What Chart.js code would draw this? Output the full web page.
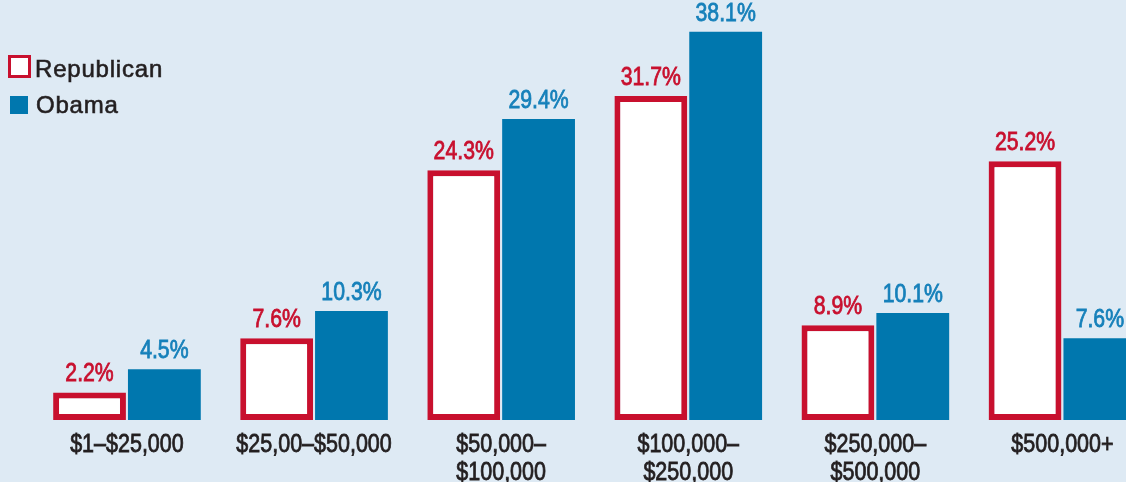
<!DOCTYPE html>
<html>
<head>
<meta charset="utf-8">
<script src="https://cdn.jsdelivr.net/npm/chart.js@4.4.1/dist/chart.umd.min.js"></script>
<style>
  html, body { margin: 0; padding: 0; overflow: hidden; background: #deeaf4; }
  #wrap { width: 1156px; height: 482px; }
  canvas { display: block; }
</style>
</head>
<body>
<div id="wrap"><canvas id="chart" width="1156" height="482"></canvas></div>
<script>
const categories = [
  ['$1–$25,000'],
  ['$25,00–$50,000'],
  ['$50,000–', '$100,000'],
  ['$100,000–', '$250,000'],
  ['$250,000–', '$500,000'],
  ['$500,000+']
];
const republican = [2.2, 7.6, 24.3, 31.7, 8.9, 25.2];
const obama = [4.5, 10.3, 29.4, 38.1, 10.1, 7.6];

const RED = '#c8102e';
const BLUE = '#0077ae';
const BLUE_TEXT = '#1680ba';
const INK = '#231f20';
const Y_MIN = -0.54;
const FONT = '"Liberation Sans", Arial, sans-serif';

// condensed "medium" text: regular face squeezed sideways plus a thin stroke
function squeezedText(ctx, text, x, y, size, color, squeeze) {
  ctx.save();
  ctx.font = size + 'px ' + FONT;
  ctx.fillStyle = color;
  ctx.strokeStyle = color;
  ctx.lineWidth = 0.8;
  ctx.textAlign = 'center';
  ctx.textBaseline = 'alphabetic';
  ctx.translate(x, y);
  ctx.scale(squeeze, 1);
  ctx.fillText(text, 0, 0);
  ctx.strokeText(text, 0, 0);
  ctx.restore();
}

// percentage labels above each bar
const valueLabels = {
  id: 'valueLabels',
  afterDatasetsDraw(chart) {
    chart.data.datasets.forEach((ds, i) => {
      const meta = chart.getDatasetMeta(i);
      meta.data.forEach((bar, j) => {
        squeezedText(chart.ctx, ds.data[j].toFixed(1) + '%', bar.x, bar.y - 11, 25,
          i === 0 ? RED : BLUE_TEXT, 0.85);
      });
    });
  }
};

// category names under the x scale, placed at the scale's tick pixels
const categoryLabels = {
  id: 'categoryLabels',
  afterDraw(chart) {
    const xs = chart.scales.x;
    chart.data.labels.forEach((lines, i) => {
      const x = xs.getPixelForTick(i);
      lines.forEach((line, k) => {
        squeezedText(chart.ctx, line, x, xs.top + 32 + k * 28, 25, INK, 0.86);
      });
    });
  }
};

// legend in the top-left corner
const cornerLegend = {
  id: 'cornerLegend',
  afterDraw(chart) {
    const ctx = chart.ctx;
    const ds = chart.data.datasets;
    ctx.save();
    ctx.font = '24px ' + FONT;
    ctx.letterSpacing = '0.8px';
    ctx.textBaseline = 'alphabetic';
    ctx.lineWidth = 0.6;

    // Republican: outlined square
    ctx.fillStyle = '#ffffff';
    ctx.fillRect(8, 55, 23, 23);
    ctx.strokeStyle = ds[0].borderColor;
    ctx.lineWidth = 3;
    ctx.strokeRect(9.5, 56.5, 20, 20);
    ctx.fillStyle = INK;
    ctx.strokeStyle = INK;
    ctx.lineWidth = 0.6;
    ctx.fillText(ds[0].label, 35, 77);
    ctx.strokeText(ds[0].label, 35, 77);

    // Obama: filled square
    ctx.fillStyle = ds[1].backgroundColor;
    ctx.fillRect(10, 96, 18, 18);
    ctx.fillStyle = INK;
    ctx.fillText(ds[1].label, 36, 113);
    ctx.strokeText(ds[1].label, 36, 113);
    ctx.restore();
  }
};

new Chart(document.getElementById('chart'), {
  type: 'bar',
  data: {
    labels: categories,
    datasets: [
      {
        label: 'Republican',
        data: republican,
        backgroundColor: '#ffffff',
        borderColor: RED,
        borderWidth: 6,
        borderSkipped: false,
        base: Y_MIN
      },
      {
        label: 'Obama',
        data: obama,
        backgroundColor: BLUE,
        borderWidth: 0,
        base: Y_MIN
      }
    ]
  },
  options: {
    responsive: false,
    animation: false,
    devicePixelRatio: 1,
    categoryPercentage: 0.8,
    barPercentage: 0.973,
    layout: { padding: { left: 33.4, right: 0, top: 0, bottom: 0 } },
    plugins: {
      legend: { display: false },
      tooltip: { enabled: false }
    },
    scales: {
      x: {
        grid: { display: false, drawTicks: false },
        border: { display: false },
        ticks: { display: false },
        afterFit(scale) { scale.height = 62; }
      },
      y: {
        display: false,
        min: Y_MIN,
        max: 41.25
      }
    }
  },
  plugins: [valueLabels, categoryLabels, cornerLegend]
});
</script>
</body>
</html>
